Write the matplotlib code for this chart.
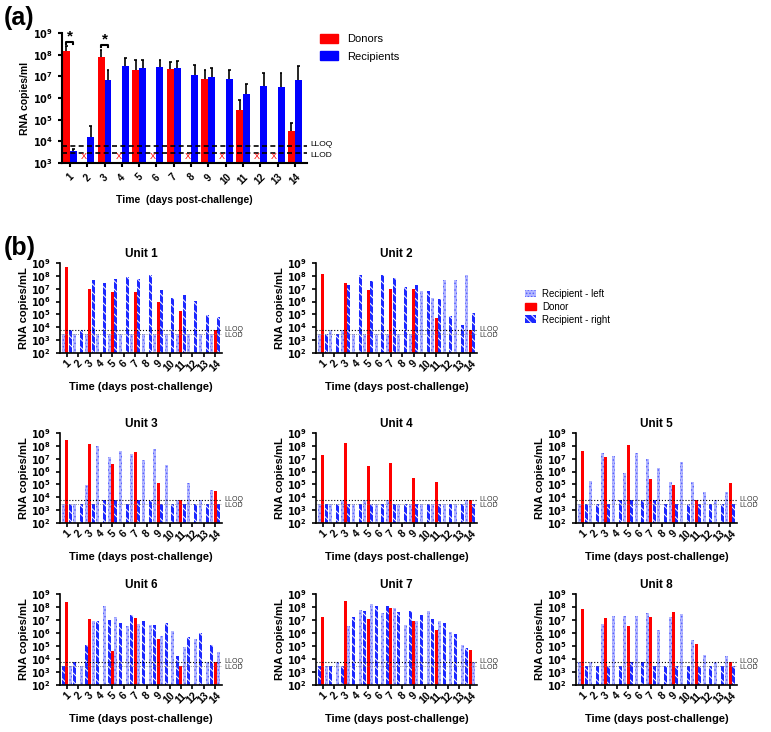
import numpy as np
import matplotlib.pyplot as plt
import matplotlib.transforms as mtransforms
from matplotlib.patches import Patch

plt.rcParams['font.family'] = ['Liberation Sans', 'DejaVu Sans']
plt.rcParams['hatch.linewidth'] = 0.7
nan = np.nan

days = np.arange(1, 15)
LLOQ = 6e3
LLOD = 3e3

# ---- panel (a): group means with upper error bars
donor_mean = [1.45e8, nan, 7.7e7, nan, 1.9e7, nan, 2.1e7, nan, 7.5e6, nan, 2.9e5, nan, nan, 3.1e4]
donor_top = [2.6e8, nan, 1.6e8, nan, 5.5e7, nan, 4.6e7, nan, 2e7, nan, 8.4e5, nan, nan, 7e4]
recip_mean = [3.7e3, 1.6e4, 7e6, 2.9e7, 2.3e7, 2.7e7, 2.3e7, 1.1e7, 9.5e6, 7.5e6, 1.6e6, 3.5e6, 3.2e6, 7e6]
recip_top = [4.6e3, 5.2e4, 1.9e7, 6.8e7, 5.9e7, 5.9e7, 5.3e7, 3.5e7, 2.4e7, 1.9e7, 4.6e6, 1.4e7, 1.5e7, 3.1e7]
signif_days = [1, 3]
signif_y = [4e8, 2.8e8]

# ---- panel (b): per unit values (left recipient, donor, right recipient)
unit_left = {
    1: [3e3, 3e3, 3e3, 3e3, 3e3, 3e3, 3e3, 3e3, 3e3, 3e3, 3e3, 3e3, 3e3, 3e3],
    2: [3e3, 6e3, 6e3, 3e3, 3e3, 3e3, 3e3, 3e3, 3e3, 7e6, 2e6, 4.5e7, 5e7, 1.1e8],
    3: [3e3, 3e3, 9e4, 1e8, 1.3e7, 4e7, 2.3e7, 8e6, 6e7, 3.5e6, 6e3, 1.2e5, 6e3, 4e4],
    4: [3e3, 3e3, 6e3, 3e3, 6e3, 3e3, 6e3, 3e3, 3e3, 3e3, 3e3, 3e3, 3e3, 6e3],
    5: [3e3, 1.8e5, 3e7, 1.6e7, 8e5, 3e7, 9e6, 2e6, 1.5e5, 6e6, 1.5e5, 2.5e4, 6e3, 2.5e4],
    6: [3e3, 3e3, 9e6, 1.3e8, 1.8e7, 3.5e6, 5e6, 4e6, 5.5e5, 1.5e6, 8e4, 3.5e5, 6e3, 3.5e4],
    7: [3e3, 6e3, 3.5e6, 6e7, 1.7e8, 3.5e7, 8.5e7, 4e6, 9e6, 5e7, 8e6, 1.3e6, 1.1e5, 6e3],
    8: [6e3, 6e3, 5e6, 2e7, 2e7, 2e7, 3.5e7, 1.6e6, 1.6e7, 3e7, 2.8e5, 2.2e4, 6e3, 1.6e4],
}
unit_donor = {
    1: [4.5e8, nan, 9e6, nan, 6e6, nan, 6e6, nan, 1e6, nan, 2e5, nan, nan, 6e3],
    2: [1.3e8, nan, 3e7, nan, 8e6, nan, 1e7, nan, 9e6, nan, 5.5e4, nan, nan, 6e3],
    3: [3e8, nan, 1.3e8, nan, 4e6, nan, 3.5e7, nan, 1.3e5, nan, 6e3, nan, nan, 3e4],
    4: [2e7, nan, 1.6e8, nan, 2.5e6, nan, 5e6, nan, 3e5, nan, 1.6e5, nan, nan, 6e3],
    5: [4e7, nan, 1.3e7, nan, 1.1e8, nan, 2.5e5, nan, 9e4, nan, 6e3, nan, nan, 1.3e5],
    6: [2.3e8, nan, 1.2e7, nan, 4e4, nan, 1.4e7, nan, 3.5e5, nan, 3e3, nan, nan, 6e3],
    7: [1.7e7, nan, 2.8e8, nan, 1.3e7, nan, 8.5e7, nan, 8e6, nan, 1.7e6, nan, nan, 5e4],
    8: [6.5e7, nan, 1.5e7, nan, 3.5e6, nan, 1.8e7, nan, 4.5e7, nan, 1.4e5, nan, nan, 6e3],
}
unit_right = {
    1: [6e3, 6e3, 4.5e7, 2.8e7, 5.3e7, 8.5e7, 5.3e7, 1.1e8, 8e6, 1.9e6, 3.4e6, 1.2e6, 9e4, 6e4],
    2: [3e3, 3e3, 1.8e7, 1.2e8, 4e7, 1.2e8, 6.5e7, 1.3e7, 1.8e7, 7e6, 1.7e6, 7.5e4, 1.4e4, 1.2e5],
    3: [3e3, 3e3, 3e3, 6e3, 6e3, 3e3, 6e3, 6e3, 3e3, 3e3, 3e3, 3e3, 3e3, 3e3],
    4: [3e3, 3e3, 3e3, 3e3, 3e3, 3e3, 3e3, 3e3, 3e3, 3e3, 3e3, 3e3, 3e3, 3e3],
    5: [3e3, 3e3, 3e3, 6e3, 6e3, 6e3, 6e3, 3e3, 3e3, 3e3, 3e3, 3e3, 3e3, 3e3],
    6: [3e3, 6e3, 1.3e5, 8e6, 1e7, 6e6, 2.5e7, 8e6, 4.5e6, 6e6, 1.8e4, 5e5, 1e6, 1.2e5],
    7: [3e3, 3e3, 3e3, 1.8e7, 5e7, 1.1e8, 1.2e8, 4e7, 5e7, 2.3e7, 1.1e7, 5.5e6, 8e5, 7.5e4],
    8: [3e3, 3e3, 3e3, 3e3, 6e3, 6e3, 3e3, 3e3, 3e3, 3e3, 3e3, 3e3, 3e3, 3e3],
}
# in units 6 and 7 the right recipient bar sits first in each group
swapped_units = [6, 7]

W, H = 771, 732
fig = plt.figure(figsize=(W / 100, H / 100), dpi=100)


def px_axes(x0, y0, x1, y1):
    return fig.add_axes([x0 / W, 1 - y1 / H, (x1 - x0) / W, (y1 - y0) / H])


def style_axes(ax, lw=1.3):
    for s in ['top', 'right']:
        ax.spines[s].set_visible(False)
    for s in ['left', 'bottom']:
        ax.spines[s].set_linewidth(lw)
    ax.tick_params(width=lw, length=3)
    ax.minorticks_off()


def log_labels(ax, lo, hi, size):
    ticks = [10.0 ** k for k in range(lo, hi + 1)]
    ax.set_yticks(ticks)
    ax.set_yticklabels([r'$\mathbf{10^{%d}}$' % k for k in range(lo, hi + 1)], fontsize=size)
    ax.minorticks_off()


# ================= panel (a)
axa = px_axes(62, 33, 307, 163)
axa.set_yscale('log')
RED = '#ff0000'
BLUE = '#0000ff'
dm = np.array(donor_mean)
rm = np.array(recip_mean)
axa.bar(days - 0.2, dm - 1e3, bottom=1e3, width=0.4, color=RED)
axa.bar(days + 0.2, rm - 1e3, bottom=1e3, width=0.4, color=BLUE)
axa.vlines(days - 0.2, dm, donor_top, color='k', lw=1.2)
axa.hlines(donor_top, days - 0.28, days - 0.12, color='k', lw=1.2)
axa.vlines(days + 0.2, rm, recip_top, color='k', lw=1.2)
axa.hlines(recip_top, days + 0.12, days + 0.28, color='k', lw=1.2)
for d, m in zip(days, donor_mean):
    if np.isnan(m):
        axa.text(d - 0.2, 2e3, 'X', color=RED, fontsize=6.5, ha='center', va='center')
for d, y in zip(signif_days, signif_y):
    axa.plot([d - 0.2, d - 0.2, d + 0.2, d + 0.2], [y * 0.78, y, y, y * 0.78], color='k', lw=1.5)
    axa.text(d, y * 0.85, '*', fontsize=11, fontweight='bold', ha='center', va='bottom')
axa.axhline(LLOQ, color='k', ls='--', lw=1.2, dashes=(3, 2))
axa.axhline(LLOD, color='k', ls='--', lw=1.2, dashes=(3, 2))
tra = mtransforms.blended_transform_factory(axa.transAxes, axa.transData)
axa.text(1.015, LLOQ * 1.25, 'LLOQ', transform=tra, fontsize=6, va='center')
axa.text(1.015, LLOD * 0.78, 'LLOD', transform=tra, fontsize=6, va='center')
axa.set_ylim(1e3, 1e9)
axa.set_xlim(0.54, 14.7)
style_axes(axa, 1.5)
log_labels(axa, 3, 9, 7)
axa.set_xticks(days)
axa.set_xticklabels([str(d) for d in days], rotation=45, fontsize=7, fontweight='bold')
axa.set_ylabel('RNA copies/ml', fontsize=7.5, fontweight='bold', labelpad=2)
axa.set_xlabel('Time  (days post-challenge)', fontsize=7.5, fontweight='bold', labelpad=6)
axa.legend(handles=[Patch(color=RED), Patch(color=BLUE)], labels=['Donors', 'Recipients'],
           loc='upper left', bbox_to_anchor=(310 / W, 1 - 24 / H), bbox_transform=fig.transFigure,
           frameon=False, fontsize=8, handlelength=1.6, handleheight=0.9, labelspacing=0.6)

fig.text(4 / W, 1 - 18 / H, '(a)', fontsize=18, fontweight='bold', va='center')
fig.text(4 / W, 1 - 248 / H, '(b)', fontsize=18, fontweight='bold', va='center')

# ================= panel (b)
LIGHT = dict(facecolor='#b4b8ff', edgecolor='#5560ff', hatch='.....', lw=0)
DARK = dict(facecolor='#1c28ff', edgecolor='white', hatch='\\\\\\\\', lw=0)

rows = [(263, 353), (433, 523), (594, 685)]
cols = [(60, 222), (316, 477), (576, 737)]
layout = {1: (0, 0), 2: (0, 1), 3: (1, 0), 4: (1, 1), 5: (1, 2), 6: (2, 0), 7: (2, 1), 8: (2, 2)}

for u, (r, c) in layout.items():
    y0, y1 = rows[r]
    x0, x1 = cols[c]
    ax = px_axes(x0, y0, x1, y1)
    ax.set_yscale('log')
    off = 0.3
    pl, pr = (-off, off) if u not in swapped_units else (off, -off)
    lv = np.array(unit_left[u])
    dv = np.array(unit_donor[u])
    rv = np.array(unit_right[u])
    ax.bar(days + pl, lv - 1e2, bottom=1e2, width=0.27, **LIGHT)
    ax.bar(days, dv - 1e2, bottom=1e2, width=0.27, color=RED, lw=0)
    ax.bar(days + pr, rv - 1e2, bottom=1e2, width=0.27, **DARK)
    ax.axhline(LLOQ, color='k', ls=':', lw=0.8)
    ax.axhline(LLOD, color='#777777', ls=':', lw=0.6)
    tr = mtransforms.blended_transform_factory(ax.transAxes, ax.transData)
    ax.text(1.015, LLOQ * 1.15, 'LLOQ', transform=tr, fontsize=5, color='#333333', va='center')
    ax.text(1.015, LLOD * 0.8, 'LLOD', transform=tr, fontsize=5, color='#333333', va='center')
    ax.set_ylim(1e2, 1e9)
    ax.set_xlim(0.4, 14.6)
    style_axes(ax, 1.2)
    log_labels(ax, 2, 9, 7)
    ax.set_xticks(days)
    ax.set_xticklabels([str(d) for d in days], rotation=45, fontsize=7.5, fontweight='bold')
    ax.tick_params(axis='x', pad=1)
    ax.set_title('Unit %d' % u, fontsize=8.5, fontweight='bold', pad=4)
    ax.set_ylabel('RNA copies/mL', fontsize=8, fontweight='bold', labelpad=1)
    ax.set_xlabel('Time (days post-challenge)', fontsize=8, fontweight='bold', labelpad=6)

fig.legend(handles=[Patch(**LIGHT), Patch(color=RED), Patch(**DARK)],
           labels=['Recipient - left', 'Donor', 'Recipient - right'],
           loc='upper left', bbox_to_anchor=(516 / W, 1 - 280 / H), frameon=False,
           fontsize=7, handlelength=1.2, handleheight=0.8, labelspacing=0.3, handletextpad=0.6)

fig.savefig('out.png', dpi=100)
